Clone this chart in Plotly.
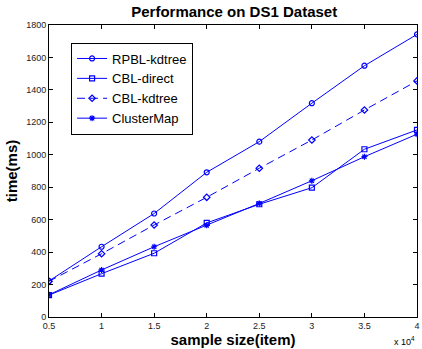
import plotly.graph_objects as go

sample_size = [0.5, 1, 1.5, 2, 2.5, 3, 3.5, 4]
rpbl_kdtree = [222, 433, 638, 892, 1081, 1318, 1549, 1742]
cbl_direct = [135, 267, 393, 580, 695, 797, 1034, 1153]
cbl_kdtree = [220, 390, 567, 738, 917, 1091, 1276, 1455]
clustermap = [137, 290, 433, 565, 700, 840, 988, 1127]

x_ticks = [0.5, 1, 1.5, 2, 2.5, 3, 3.5, 4]
x_ticktext = ["0.5", "1", "1.5", "2", "2.5", "3", "3.5", "4"]
y_ticks = [0, 200, 400, 600, 800, 1000, 1200, 1400, 1600, 1800]

BLUE = "#0000ff"
FONT = "Liberation Sans, Arial, sans-serif"

series = [
    ("RPBL-kdtree", rpbl_kdtree, "circle-open", "solid", 5),
    ("CBL-direct", cbl_direct, "square-open", "solid", 5),
    ("CBL-kdtree", cbl_kdtree, "diamond-open", "8px,5px", 5),
    ("ClusterMap", clustermap, "asterisk-open", "solid", 5),
]

fig = go.Figure()
for name, ys, sym, dash, ms in series:
    fig.add_trace(go.Scatter(
        x=sample_size, y=ys, name=name, mode="lines+markers",
        line=dict(color=BLUE, width=1, dash=dash),
        marker=dict(symbol=sym, size=ms, color=BLUE, line=dict(color=BLUE, width=1.2)),
    ))

fig.update_layout(
    width=422, height=349,
    margin=dict(l=49, r=2, t=25, b=32),
    paper_bgcolor="white", plot_bgcolor="white",
    font=dict(family=FONT, color="black"),
    showlegend=True,
    legend=dict(
        x=0.06, y=0.94, xanchor="left", yanchor="top",
        bgcolor="white", bordercolor="black", borderwidth=1,
        font=dict(size=13, family=FONT),
        tracegroupgap=0,
    ),
    title=dict(text="<b>Performance on DS1 Dataset</b>", x=0.555, xanchor="center",
               y=0.965, yanchor="middle", font=dict(size=15, family=FONT)),
)
fig.update_xaxes(
    range=[0.5, 4], tickvals=x_ticks, ticktext=x_ticktext,
    ticks="inside", ticklen=4, tickcolor="black", mirror="ticks",
    showline=True, linecolor="black", linewidth=1, showgrid=False, zeroline=False,
    tickfont=dict(size=9, family=FONT, color="#222"), ticklabeloverflow="allow",
    title=dict(text="<b>sample size(item)</b>", font=dict(size=15, family=FONT), standoff=0),
)
fig.update_yaxes(
    range=[0, 1800], tickvals=y_ticks,
    ticks="inside", ticklen=4, tickcolor="black", mirror="ticks",
    showline=True, linecolor="black", linewidth=1, showgrid=False, zeroline=False,
    tickfont=dict(size=9, family=FONT, color="#222"),
    title=dict(text="<b>time(ms)</b>", font=dict(size=15, family=FONT), standoff=4),
)
fig.add_annotation(
    text="x 10<sup>4</sup>", xref="paper", yref="paper", x=1.0, y=-0.055,
    xanchor="right", yanchor="top", showarrow=False, font=dict(size=9, family=FONT),
)
fig.write_html("out.html", post_script="document.body.style.margin='0';",
               config={"displayModeBar": False})
